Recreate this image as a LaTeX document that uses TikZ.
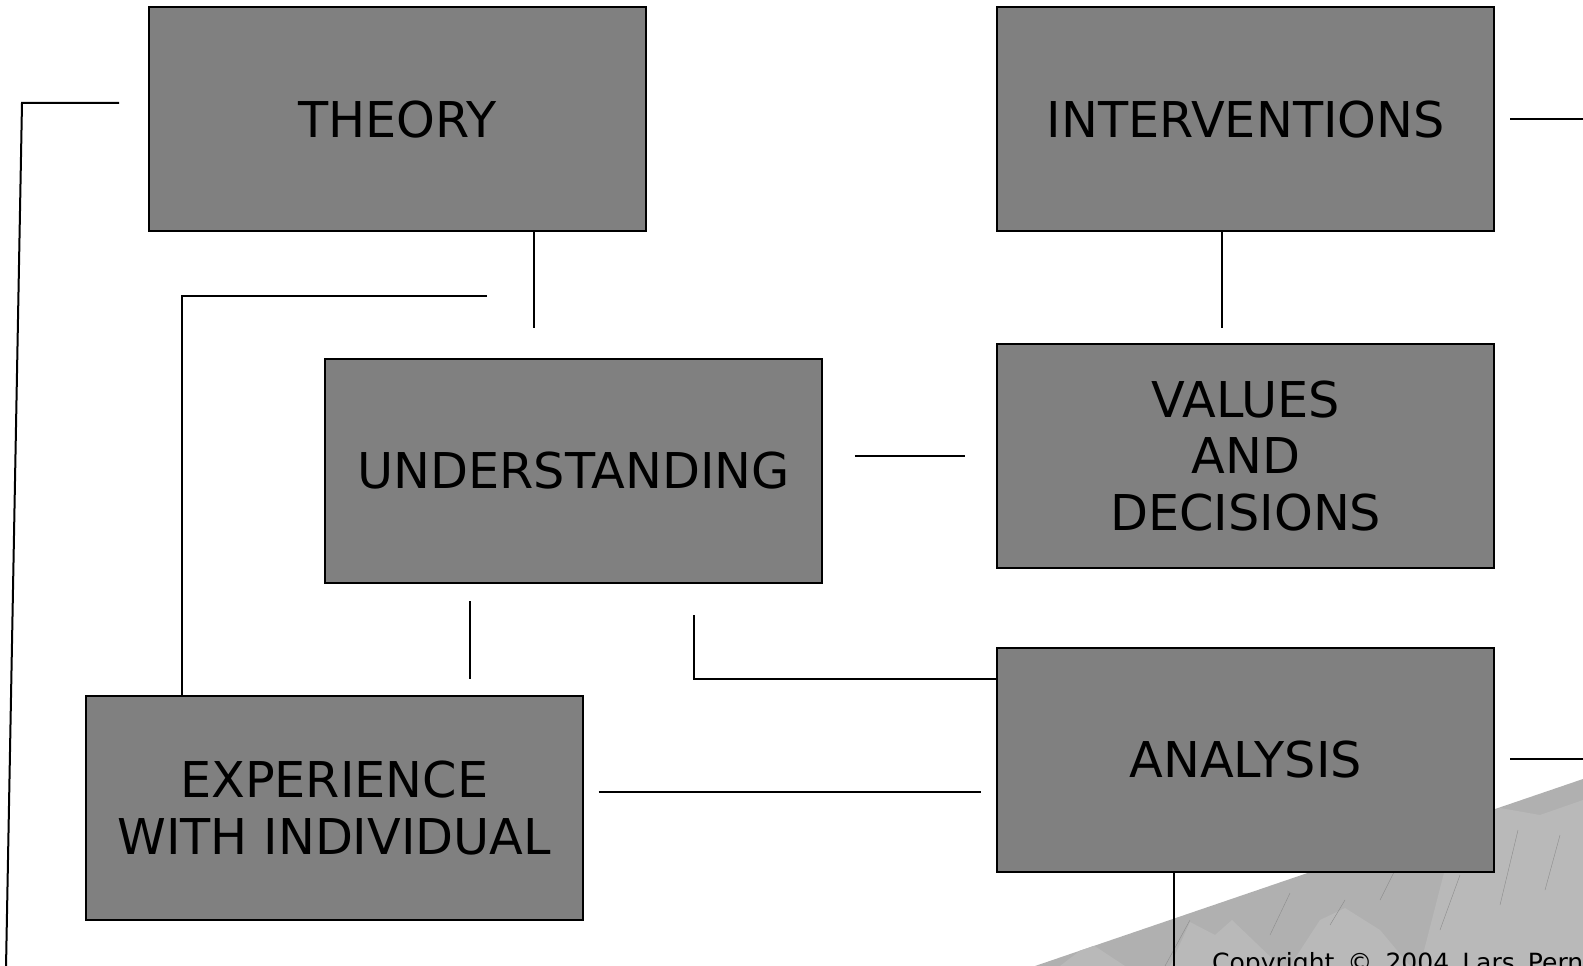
\documentclass[tikz,border=0pt]{standalone}
\usepackage{fontspec}
\setmainfont{DejaVu Sans}
\usetikzlibrary{calc}

\tikzset{every picture/.style={line width=1.5pt}}
\tikzset{
  box/.style={draw, fill={rgb, 255:red, 128; green, 128; blue, 128}, minimum width=372.4pt, minimum height=168pt, inner sep=0pt, align=center, font=\fontsize{37}{42.5}\selectfont},
  band/.style={fill={rgb, 255:red, 176; green, 176; blue, 176}},
  peak/.style={fill={rgb, 255:red, 185; green, 185; blue, 185}},
  streak/.style={draw={rgb, 255:red, 140; green, 140; blue, 140}, line width=0.3pt}
}
\newcommand{\wsp}{\hspace{0.2em} }

\begin{document}
\begin{tikzpicture}[x=0.75pt,y=0.75pt,yscale=-1,xscale=1]

\useasboundingbox (0,0) rectangle (1583,966);
\clip (0,0) rectangle (1583,966);

%Background band
\fill [band] (1035,966) -- (1583,779) -- (1583,966) -- cycle;
\begin{scope}
\clip (1035,966) -- (1583,779) -- (1583,966) -- cycle;
\fill [peak] (1060,966) -- (1090,943) -- (1125,966) -- cycle;
\fill [peak] (1170,966) -- (1190,922) -- (1215,935) -- (1232,920) -- (1280,966) -- cycle;
\fill [peak] (1290,966) -- (1320,920) -- (1345,908) -- (1380,930) -- (1410,966) -- cycle;
\fill [peak] (1420,966) -- (1455,830) -- (1500,808) -- (1540,815) -- (1583,800) -- (1583,966) -- cycle;
\draw [streak] (1165,966) -- (1190,920);
\draw [streak] (1270,935) -- (1290,893);
\draw [streak] (1330,925) -- (1345,900);
\draw [streak] (1380,900) -- (1395,870);
\draw [streak] (1440,930) -- (1460,875);
\draw [streak] (1500,905) -- (1518,830);
\draw [streak] (1545,890) -- (1560,835);
\end{scope}

%Rect
\node [box] (theory) at (397.75,119.5) {THEORY};
%Rect
\node [box] (interventions) at (1245.75,119.5) {INTERVENTIONS};
%Rect
\node [box] (values) at (1245.75,456) {VALUES\\AND\\DECISIONS};
%Rect
\node [box] (understanding) at (573.5,471) {UNDERSTANDING};
%Rect
\node [box] (analysis) at (1245.75,760) {ANALYSIS};
%Rect
\node [box] (experience) at (334.25,807.75) {EXPERIENCE\\WITH INDIVIDUAL};

%Straight Lines
\coordinate (loopA) at (119,103);
\coordinate (loopB) at (6,968);
\draw (loopA) -- (22,103) -- (loopB);

%Straight Lines
\coordinate (t2u) at (534,328);
\draw (theory.south -| t2u) -- (t2u);

%Straight Lines
\coordinate (expA) at (487,296);
\draw (expA) -| (experience.north -| 181.5,0);

%Straight Lines
\draw [shorten <=24pt, shorten >=23.6pt] (understanding.east |- values.west) -- (values.west);

%Straight Lines
\coordinate (i2v) at (1221.6,328);
\draw (interventions.south -| i2v) -- (i2v);

%Straight Lines
\coordinate (iR) at (1585,119);
\draw [shorten <=11.25pt] (interventions.east |- iR) -- (iR);

%Straight Lines
\coordinate (aR) at (1585,759);
\draw [shorten <=11.25pt] (analysis.east |- aR) -- (aR);

%Straight Lines
\coordinate (u2e) at (469.5,600);
\draw [shorten <=12.75pt, shorten >=12pt] (understanding.south -| u2e) -- (experience.north -| u2e);

%Straight Lines
\coordinate (u2a) at (693.6,615);
\draw (u2a) |- ($(analysis.north west)+(0,31.5)$);

%Straight Lines
\draw [shorten <=11.4pt, shorten >=11.4pt] (experience.east |- 0,791.5) -- (analysis.west |- 0,791.5);

%Straight Lines
\coordinate (aB) at (1174,968);
\draw (analysis.south -| aB) -- (aB);

% Text Node
\node [anchor=base west, font=\fontsize{18.8}{22}\selectfont, inner sep=0pt] (copy) at (1211,971) {Copyright\wsp ©\wsp 2004\wsp Lars\wsp Pern};

\end{tikzpicture}
\end{document}
